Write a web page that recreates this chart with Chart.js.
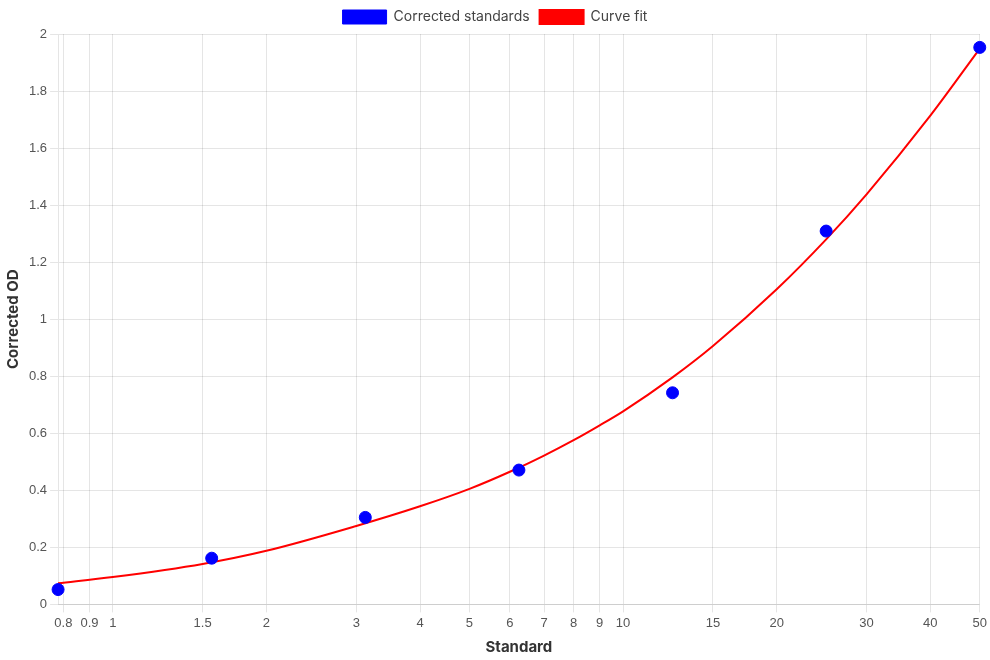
<!DOCTYPE html>
<html>
<head>
<meta charset="utf-8">
<script src="https://cdn.jsdelivr.net/npm/chart.js@4"></script>
<style>
  html, body { margin: 0; padding: 0; background: #fff; }
  #wrap { width: 990px; height: 660px; }
</style>
</head>
<body>
<div id="wrap"><canvas id="od-chart"></canvas></div>
<script>
// standards (serial dilution) and measured OD
const standards = [0.78125, 1.5625, 3.125, 6.25, 12.5, 25, 50];
const correctedOD = [0.052, 0.162, 0.305, 0.471, 0.742, 1.309, 1.953];

// fitted curve
const fitX = [0.78125, 1, 1.5, 2, 3, 4, 5, 6, 7, 8, 9, 10, 12.5, 15, 20, 25, 30, 40, 50];
const fitY = [0.074, 0.096, 0.142, 0.188, 0.275, 0.344, 0.405, 0.465, 0.522, 0.576, 0.628, 0.677, 0.796, 0.906, 1.105, 1.28, 1.438, 1.714, 1.949];

const yTicks = { min: 0, max: 2, step: 0.2 };

const titleFont = { family: 'Inter', size: 15, weight: 'bold' };
const tickFont = { size: 13 };

const ctx = document.getElementById('od-chart').getContext('2d');
const odChart = new Chart(ctx, {
  type: 'scatter',
  data: {
    datasets: [
      {
        label: 'Corrected standards',
        data: standards.map((x, i) => ({ x: x, y: correctedOD[i] })),
        backgroundColor: '#0000ff',
        borderColor: '#0000ff',
        pointRadius: 6,
        pointHoverRadius: 6,
        showLine: false,
        order: 0
      },
      {
        label: 'Curve fit',
        data: fitX.map((x, i) => ({ x: x, y: fitY[i] })),
        backgroundColor: '#ff0000',
        borderColor: '#ff0000',
        borderWidth: 2,
        pointRadius: 0,
        showLine: true,
        cubicInterpolationMode: 'monotone',
        order: 1
      }
    ]
  },
  options: {
    responsive: true,
    maintainAspectRatio: false,
    animation: false,
    plugins: {
      legend: {
        labels: {
          boxWidth: 44,
          boxHeight: 14,
          color: '#444',
          font: { family: 'Inter', size: 14 }
        }
      },
      tooltip: { enabled: false }
    },
    scales: {
      x: {
        type: 'logarithmic',
        bounds: 'data',
        title: { display: true, text: 'Standard', color: '#333', font: titleFont },
        ticks: {
          autoSkip: false,
          maxRotation: 0,
          color: '#555',
          font: tickFont,
          callback: function (value) {
            return String(value);
          }
        }
      },
      y: {
        min: yTicks.min,
        max: yTicks.max,
        title: { display: true, text: 'Corrected OD', color: '#333', font: titleFont },
        ticks: {
          stepSize: yTicks.step,
          color: '#555',
          font: tickFont,
          callback: function (value) {
            return String(Math.round(value * 10) / 10);
          }
        }
      }
    }
  }
});
</script>
</body>
</html>
